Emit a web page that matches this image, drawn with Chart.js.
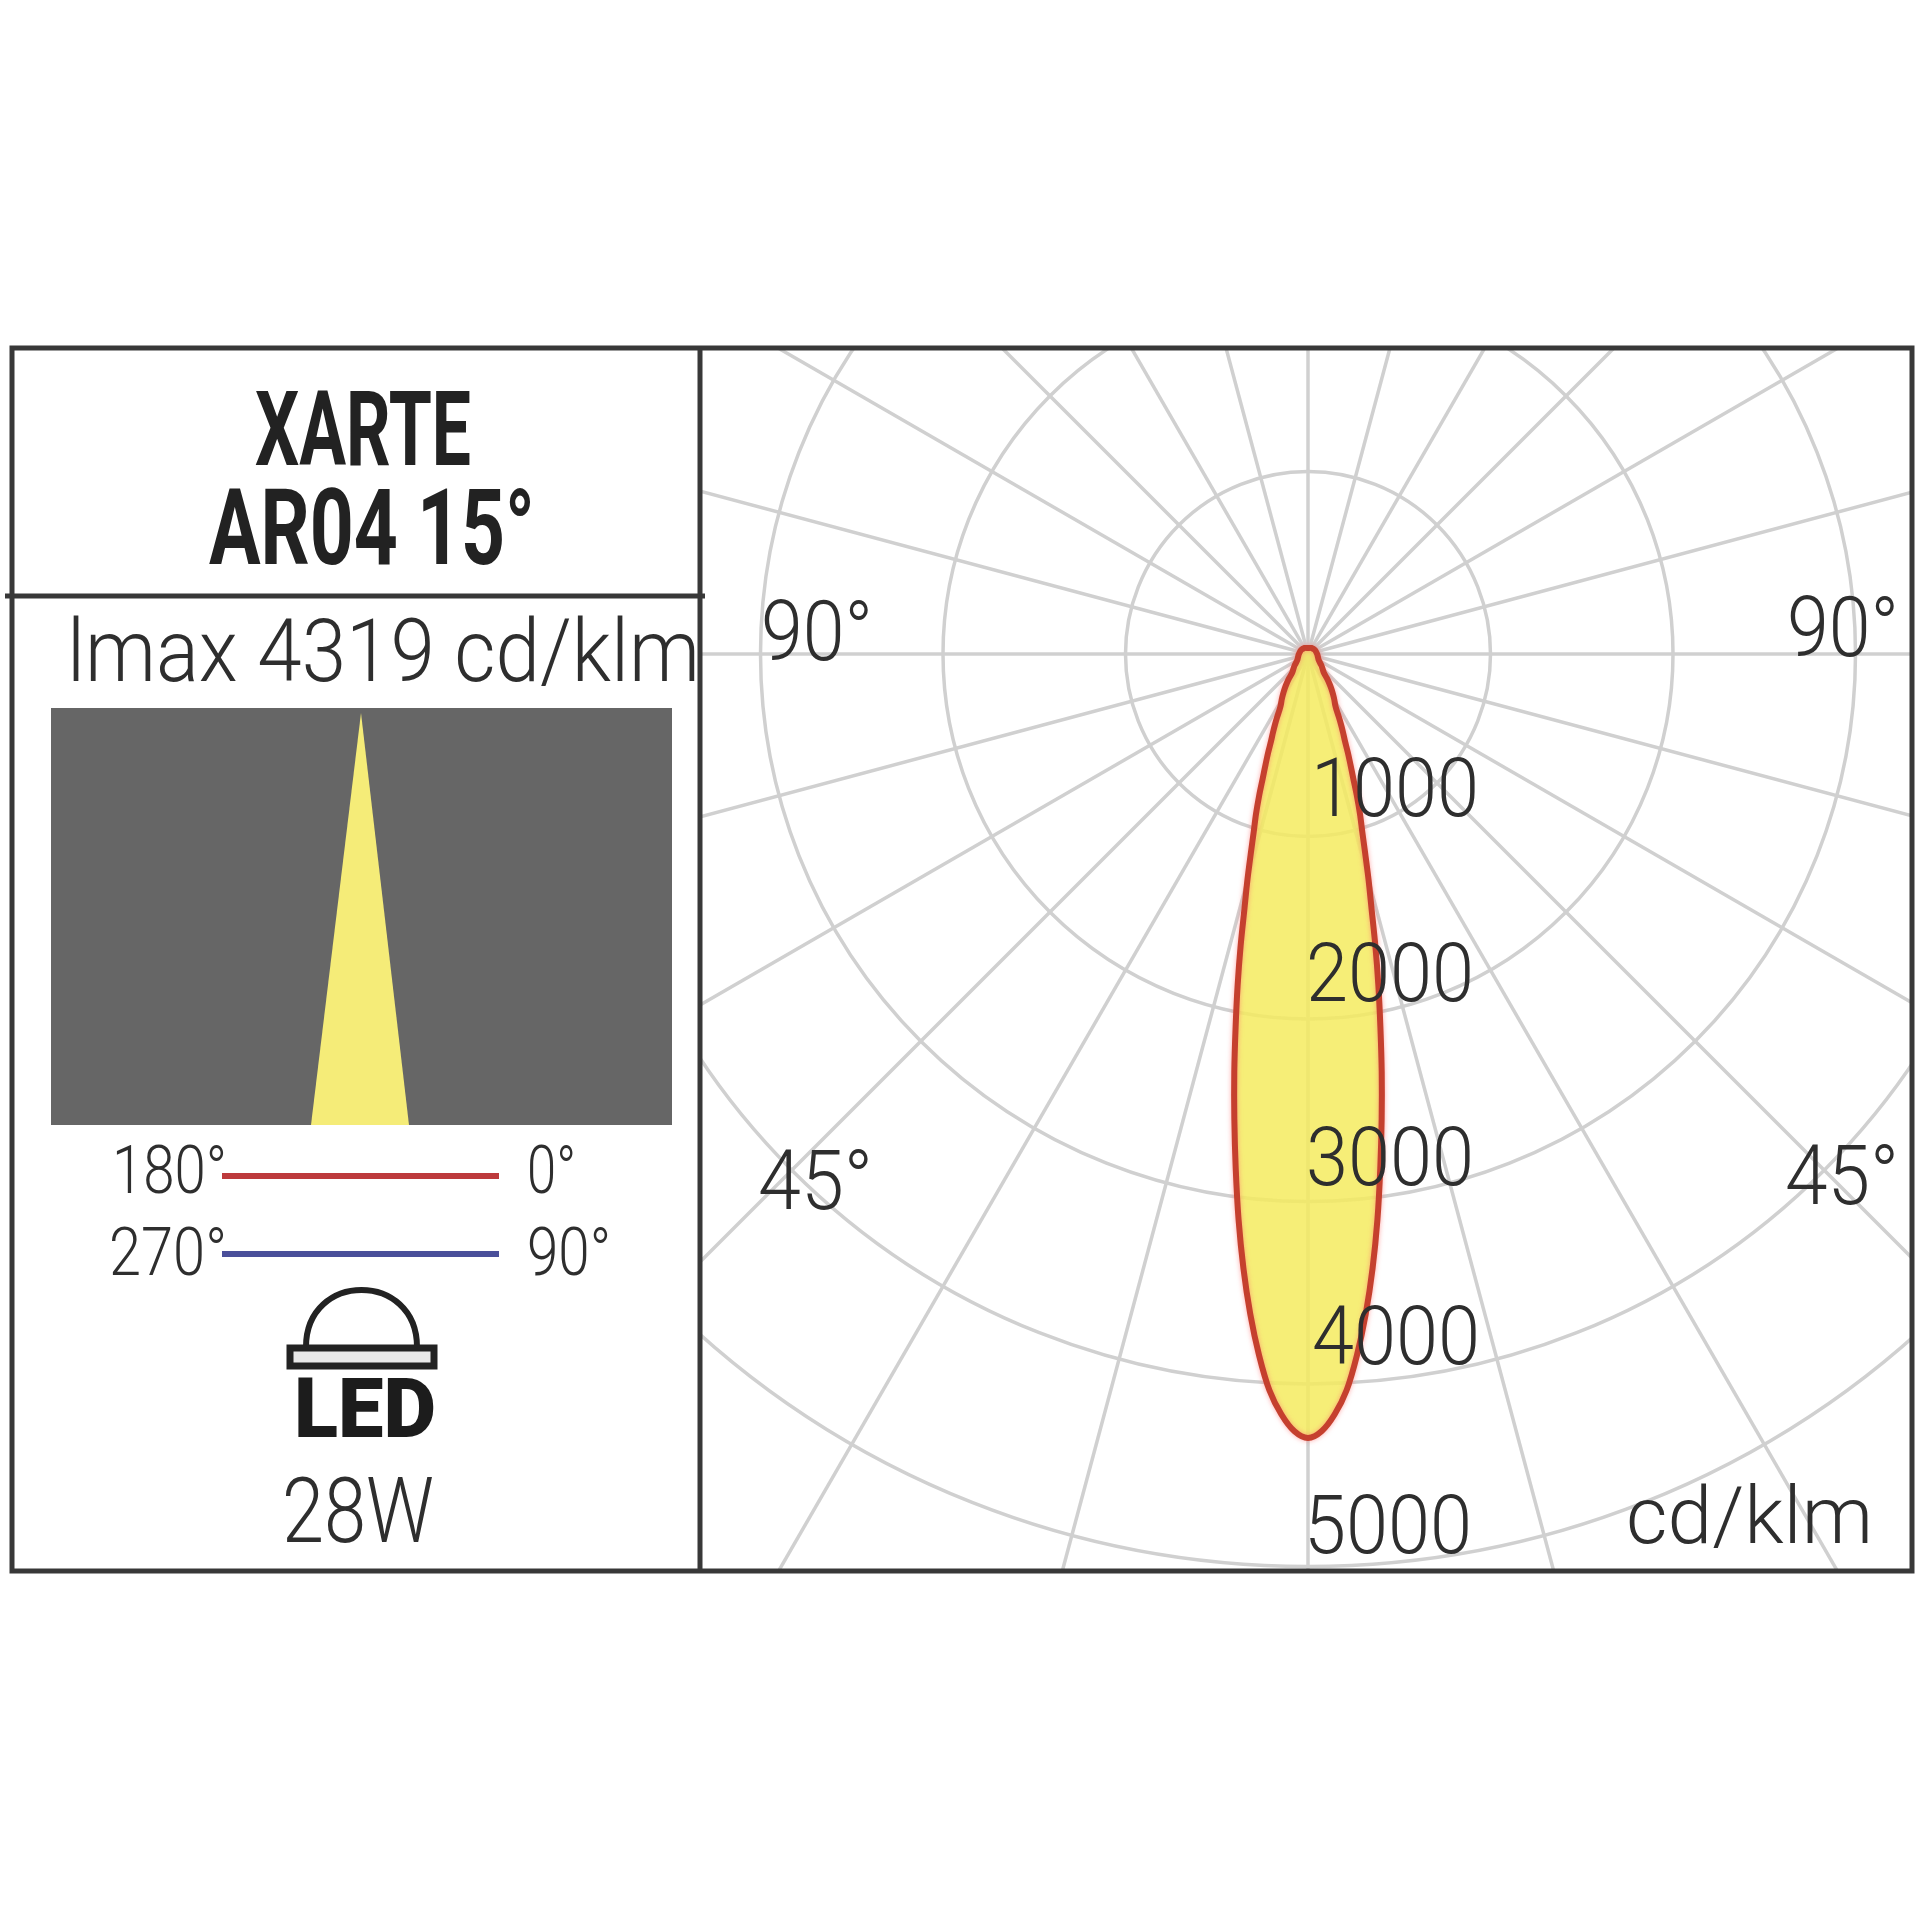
<!DOCTYPE html>
<html>
<head>
<meta charset="utf-8">
<script src="https://cdn.jsdelivr.net/npm/chart.js@4"></script>
<style>
  html, body { margin: 0; background: #fff; }
  #page { position: relative; width: 1920px; height: 1920px; overflow: hidden; }
  #plot { position: absolute; left: 702px; top: 349px; width: 1210px; height: 1221px; overflow: hidden; }
  #polar { position: absolute; left: -499px; top: -800px; }
  svg { position: absolute; left: 0; top: 0; pointer-events: none; }
  text { font-family: Roboto, sans-serif; font-weight: 300; fill: #2e2e2e; }
  .head { font-weight: 700; fill: #222; }
</style>
</head>
<body>
<div id="page">
  <div id="plot"><canvas id="polar" width="2210" height="2210"></canvas></div>
  <svg width="1920" height="1920" viewBox="0 0 1920 1920">
    <!-- frame -->
    <g stroke="#383838" stroke-width="5" fill="none">
      <rect x="12" y="348" width="1900" height="1223"/>
      <line x1="700" y1="348" x2="700" y2="1571"/>
      <line x1="5" y1="596" x2="705" y2="596"/>
    </g>

    <!-- left panel -->
    <text class="head" x="255" y="465" font-size="104" textLength="216" lengthAdjust="spacingAndGlyphs">XARTE</text>
    <text class="head" x="209" y="564" font-size="106" textLength="326" lengthAdjust="spacingAndGlyphs">AR04 15°</text>
    <text x="67" y="681" font-size="88" textLength="633" lengthAdjust="spacingAndGlyphs">lmax 4319 cd/klm</text>

    <rect x="51" y="708" width="621" height="417" fill="#666"/>
    <polygon points="361,713 409,1125 311,1125" fill="#f5ec78"/>

    <text x="112" y="1193" font-size="67" textLength="115" lengthAdjust="spacingAndGlyphs">180°</text>
    <line x1="222" y1="1176" x2="499" y2="1176" stroke="#bd3a3c" stroke-width="6"/>
    <text x="527" y="1193" font-size="67" textLength="49" lengthAdjust="spacingAndGlyphs">0°</text>
    <text x="109" y="1275" font-size="67" textLength="118" lengthAdjust="spacingAndGlyphs">270°</text>
    <line x1="222" y1="1254" x2="499" y2="1254" stroke="#4a4f9a" stroke-width="6"/>
    <text x="527" y="1275" font-size="67" textLength="84" lengthAdjust="spacingAndGlyphs">90°</text>

    <!-- LED icon -->
    <path d="M 306 1347 C 306 1271 417 1271 417 1347" fill="none" stroke="#222" stroke-width="6"/>
    <rect x="290" y="1348" width="144" height="18" fill="#e8e8e8" stroke="#222" stroke-width="7"/>
    <text x="294" y="1437" font-size="84" style="font-weight:900;fill:#1c1c1c" textLength="142" lengthAdjust="spacingAndGlyphs">LED</text>
    <text x="282" y="1542" font-size="90" textLength="152" lengthAdjust="spacingAndGlyphs">28W</text>

    <!-- plot captions -->
    <text x="761" y="660" font-size="83" textLength="112" lengthAdjust="spacingAndGlyphs">90°</text>
    <text x="1787" y="656" font-size="83" textLength="112" lengthAdjust="spacingAndGlyphs">90°</text>
    <text x="758" y="1209" font-size="83" textLength="115" lengthAdjust="spacingAndGlyphs">45°</text>
    <text x="1785" y="1204" font-size="83" textLength="114" lengthAdjust="spacingAndGlyphs">45°</text>
    <text x="1626" y="1543" font-size="80" textLength="247" lengthAdjust="spacingAndGlyphs">cd/klm</text>
  </svg>
</div>

<script>
// half of the beam: degrees from the downward axis and cd/klm
const beamAngles = [
  0, 1, 2, 3, 4, 5, 6, 7, 8, 9, 10, 11, 12, 13, 14, 15, 16, 17, 18, 19, 20,
  21, 22, 23, 24, 25, 26, 27, 28, 30, 32, 34, 36, 38, 40, 45, 50, 60, 75, 90, 120, 150, 180,
];
const beamValues = [
  4296, 4260, 4170, 4040, 3850, 3630, 3385, 3122, 2846, 2580, 2326, 2078, 1854, 1641, 1440, 1283, 1137, 1016, 922, 824, 725,
  649, 584, 518, 473, 430, 387, 344, 318, 288, 258, 228, 198, 168, 136, 112, 95, 68, 56, 50, 44, 38, 33,
];
const tickLabels = [1000, 2000, 3000, 4000, 5000];

// small nudges, the printed labels are not evenly placed
const tickShiftX = [3, -2, -2, 4, -4];
const tickShiftY = [-21, -18, -17, -20, -14];

const gridColor = "#d0d0d0";

// one radar slot per degree, slot 0 points straight down, the line spans empty slots
const slotLabels = Array.from({ length: 360 }, (_, i) => i);
const slotValues = slotLabels.map(() => null);
beamAngles.forEach((a, i) => {
  slotValues[a] = beamValues[i];
  slotValues[(360 - a) % 360] = beamValues[i];
});

const tickPlugin = {
  id: "tickText",
  beforeDatasetDraw(chart) {
    chart.ctx.save();
    chart.ctx.shadowColor = "rgba(255, 110, 110, 0.6)";
    chart.ctx.shadowBlur = 5;
  },
  afterDatasetDraw(chart) {
    chart.ctx.restore();
  },
  afterDatasetsDraw(chart) {
    const scale = chart.scales.r;
    const ctx = chart.ctx;
    ctx.save();
    ctx.font = "300 81px Roboto, sans-serif";
    ctx.fillStyle = "#2e2e2e";
    ctx.textAlign = "left";
    ctx.textBaseline = "alphabetic";
    tickLabels.forEach((v, i) => {
      const p = scale.getPointPositionForValue(0, v);
      ctx.fillText(String(v), p.x + tickShiftX[i], p.y + tickShiftY[i], 168);
    });
    ctx.restore();
  },
};

new Chart(document.getElementById("polar"), {
  type: "radar",
  data: {
    labels: slotLabels,
    datasets: [
      {
        label: "180° - 0°",
        data: slotValues,
        borderColor: "#c5402e",
        borderWidth: 6,
        borderJoinStyle: "round",
        backgroundColor: "rgba(245, 235, 95, 0.85)",
        fill: "origin",
        spanGaps: true,
        pointRadius: 0,
        tension: 0.3,
      },
    ],
  },
  options: {
    responsive: false,
    animation: false,
    layout: { padding: 10 },
    plugins: { legend: { display: false }, tooltip: { enabled: false } },
    scales: {
      r: {
        min: 0,
        max: 6000,
        startAngle: 180,
        ticks: { display: false, stepSize: 1000 },
        pointLabels: { display: false },
        grid: {
          circular: true,
          color: gridColor,
          // the 6000 ring only exists so spokes run past the 5000 ring
          lineWidth: (c) => (c.tick && c.tick.value > 5000 ? 0 : 3.5),
        },
        angleLines: {
          color: gridColor,
          lineWidth: (c) => (c.index % 15 === 0 ? 3.5 : 0),
        },
      },
    },
  },
  plugins: [tickPlugin],
});
</script>
</body>
</html>
